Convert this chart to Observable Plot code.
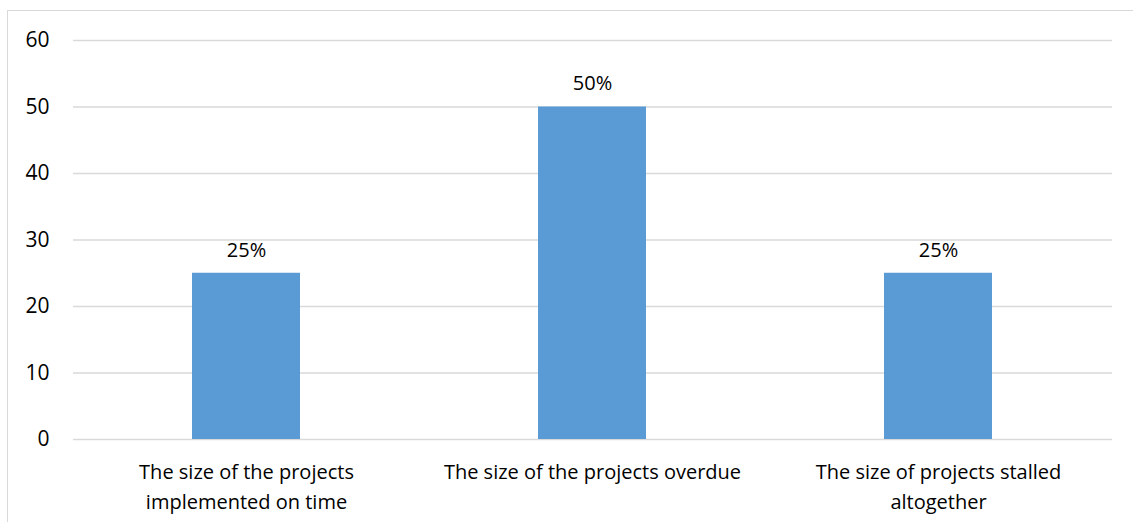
<!DOCTYPE html>
<html><head><meta charset="utf-8">
<script src="https://cdn.jsdelivr.net/npm/d3@7"></script>
<script src="https://cdn.jsdelivr.net/npm/@observablehq/plot@0.6"></script>
<style>
html,body{margin:0;padding:0;background:#fff;overflow:hidden;}
#wrap{position:relative;width:1133px;height:522px;}
#frame{position:absolute;left:7px;top:10px;width:1130px;height:600px;border:1.5px solid #d9d9d9;box-sizing:border-box;}
#chart{position:absolute;left:0;top:0;}
</style></head>
<body><div id="wrap"><div id="frame"></div><div id="chart"></div></div>
<script>
const categories = ["The size of the projects\nimplemented on time", "The size of the projects overdue", "The size of projects stalled\naltogether"];
const values = [25, 50, 25];
const valueLabels = ["25%", "50%", "25%"];
const yTicks = [0, 10, 20, 30, 40, 50, 60];

const data = categories.map((c, i) => ({cat: c, value: values[i], label: valueLabels[i]}));
const font = "'Open Sans', sans-serif";

const chart = Plot.plot({
  width: 1133, height: 522,
  marginLeft: 73, marginRight: 21, marginTop: 40, marginBottom: 83,
  style: {fontFamily: font, fontSize: "21px", color: "#000", background: "transparent"},
  x: {domain: categories, paddingInner: 0.687, paddingOuter: 0.3435, label: null},
  y: {domain: [0, 60], label: null},
  marks: [
    Plot.gridY(yTicks, {stroke: "#d9d9d9", strokeOpacity: 1, strokeWidth: 1.5}),
    Plot.barY(data, {x: "cat", y: "value", fill: "#5b9bd5"}),
    Plot.text(data, {x: "cat", y: "value", text: "label", dy: -23, fontSize: 20, fill: "#000"}),
    Plot.axisY(yTicks, {tickSize: 0, tickPadding: 24, fontSize: 21, label: null}),
    Plot.axisX({tickSize: 0, tickPadding: 18, fontSize: 20, lineHeight: 1.5, label: null})
  ]
});
document.getElementById("chart").appendChild(chart);
</script></body></html>
